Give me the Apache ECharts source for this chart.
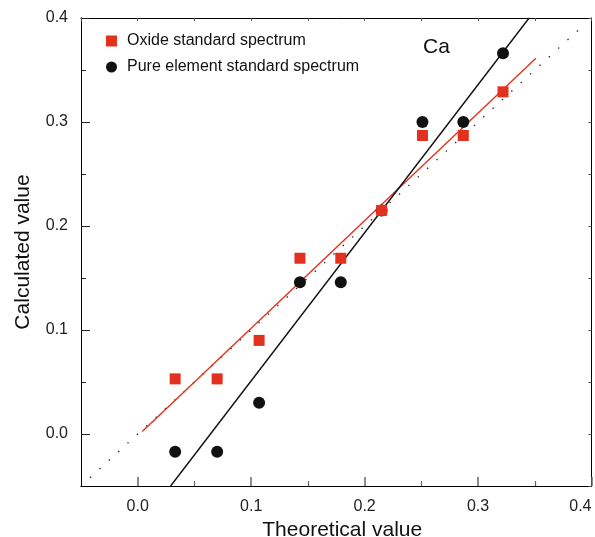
<!DOCTYPE html>
<html>
<head>
<meta charset="utf-8">
<script src="https://cdn.jsdelivr.net/npm/echarts@6/dist/echarts.min.js"></script>
<style>html,body{margin:0;padding:0;background:#fff}#c{width:595px;height:537px}</style>
</head>
<body>
<div id="c"></div>
<script>
// ---- data ----
var theoretical = [0.033, 0.070, 0.107, 0.143, 0.179, 0.215, 0.251, 0.287, 0.322];
var oxideCalc   = [0.053, 0.053, 0.090, 0.169, 0.169, 0.215, 0.287, 0.287, 0.329];
var pureCalc    = [-0.017, -0.017, 0.030, 0.146, 0.146, 0.215, 0.300, 0.300, 0.366];
var oxideFitX = [0.004, 0.351];
var oxideFitY = [0.0025, 0.3614];
var pureFitX  = [0.029, 0.345];
var pureFitY  = [-0.05, 0.40];
var identityX = [-0.042, 0.392];
var identityY = [-0.042, 0.392];
var majorTicks = [0.0, 0.1, 0.2, 0.3, 0.4];
var minorTicks = [0.05, 0.15, 0.25, 0.35];
var allTicks = [-0.05, 0.0, 0.05, 0.1, 0.15, 0.2, 0.25, 0.3, 0.35, 0.4];
var seriesNames = ['Oxide standard spectrum', 'Pure element standard spectrum'];
var xTitle = 'Theoretical value';
var yTitle = 'Calculated value';
var panelLabel = 'Ca';

function pairs(xs, ys) { return xs.map(function (x, i) { return [x, ys[i]]; }); }

var RED = '#e2321f', BLACK = '#111111';
var FONT = 'Liberation Sans, Arial, sans-serif';
var MIN = -0.05, MAX = 0.4;

function baseAxis(extra) {
  var a = {
    type: 'value', min: MIN, max: MAX, gridIndex: 0,
    splitLine: { show: false },
    axisLine: { show: true, onZero: false, lineStyle: { color: '#000', width: 1 } },
    axisTick: { show: false },
    axisLabel: { show: false }
  };
  for (var k in extra) a[k] = extra[k];
  return a;
}
function fmt(v) { return v.toFixed(1); }

var chart = echarts.init(document.getElementById('c'), null, { renderer: 'canvas' });
chart.setOption({
  animation: false,
  backgroundColor: '#fff',
  textStyle: { fontFamily: FONT },
  grid: { left: 81, right: 3.5, top: 18, bottom: 51, containLabel: false, outerBoundsMode: 'none' },
  legend: {
    orient: 'vertical', left: 106, top: 33, padding: 0,
    itemWidth: 11, itemHeight: 11, itemGap: 10,
    textStyle: { fontSize: 16, color: '#111', fontFamily: FONT, padding: [0, 0, 0, 5] },
    data: [
      { name: seriesNames[0], icon: 'rect' },
      { name: seriesNames[1], icon: 'circle' }
    ]
  },
  graphic: [{
    type: 'text', left: 423, top: 37,
    style: { text: panelLabel, fontSize: 21, fill: '#111', font: '21px ' + FONT }
  }],
  xAxis: [
    baseAxis({
      position: 'bottom',
      name: xTitle, nameLocation: 'middle', nameGap: 33,
      nameTextStyle: { fontSize: 21, color: '#111', padding: [0, 0, 0, 12] },
      axisTick: { show: true, inside: true, length: 9, customValues: majorTicks, lineStyle: { color: '#666', width: 1.5 } },
      axisLabel: { show: true, margin: 13, fontSize: 16, color: '#222', customValues: majorTicks, formatter: fmt, alignMaxLabel: 'right' }
    }),
    baseAxis({
      position: 'bottom',
      axisTick: { show: true, inside: true, length: 5, customValues: minorTicks, lineStyle: { color: '#666', width: 1.2 } }
    }),
    baseAxis({
      position: 'top',
      axisTick: { show: true, inside: true, length: 3, customValues: allTicks, lineStyle: { color: '#555', width: 1 } }
    })
  ],
  yAxis: [
    baseAxis({
      position: 'left',
      name: yTitle, nameLocation: 'middle', nameGap: 47, nameRotate: 90,
      nameTextStyle: { fontSize: 21, color: '#111' },
      axisTick: { show: true, inside: true, length: 9, customValues: majorTicks, lineStyle: { color: '#222', width: 1 } },
      axisLabel: { show: true, margin: 13, fontSize: 16, color: '#222', customValues: majorTicks, formatter: fmt }
    }),
    baseAxis({
      position: 'left',
      axisTick: { show: true, inside: true, length: 5, customValues: minorTicks, lineStyle: { color: '#222', width: 1 } }
    }),
    baseAxis({
      position: 'right',
      axisTick: { show: true, inside: true, length: 3, customValues: allTicks, lineStyle: { color: '#555', width: 1 } }
    })
  ],
  series: [
    {
      name: 'y = x', type: 'line', data: pairs(identityX, identityY),
      showSymbol: false, symbol: 'none', silent: true, clip: true,
      lineStyle: { color: '#222', width: 1.3, type: [1.4, 11.3] }, z: 1
    },
    {
      name: 'oxide fit', type: 'line', data: pairs(oxideFitX, oxideFitY),
      showSymbol: false, symbol: 'none', silent: true, clip: true,
      lineStyle: { color: RED, width: 1.4 }, z: 2
    },
    {
      name: 'pure fit', type: 'line', data: pairs(pureFitX, pureFitY),
      showSymbol: false, symbol: 'none', silent: true, clip: true,
      lineStyle: { color: BLACK, width: 1.4 }, z: 2
    },
    {
      name: seriesNames[0], type: 'scatter', data: pairs(theoretical, oxideCalc),
      symbol: 'rect', symbolSize: 11, itemStyle: { color: RED, opacity: 1 }, z: 4
    },
    {
      name: seriesNames[1], type: 'scatter', data: pairs(theoretical, pureCalc),
      symbol: 'circle', symbolSize: 12, itemStyle: { color: BLACK, opacity: 1 }, z: 3
    }
  ]
});
</script>
</body>
</html>
